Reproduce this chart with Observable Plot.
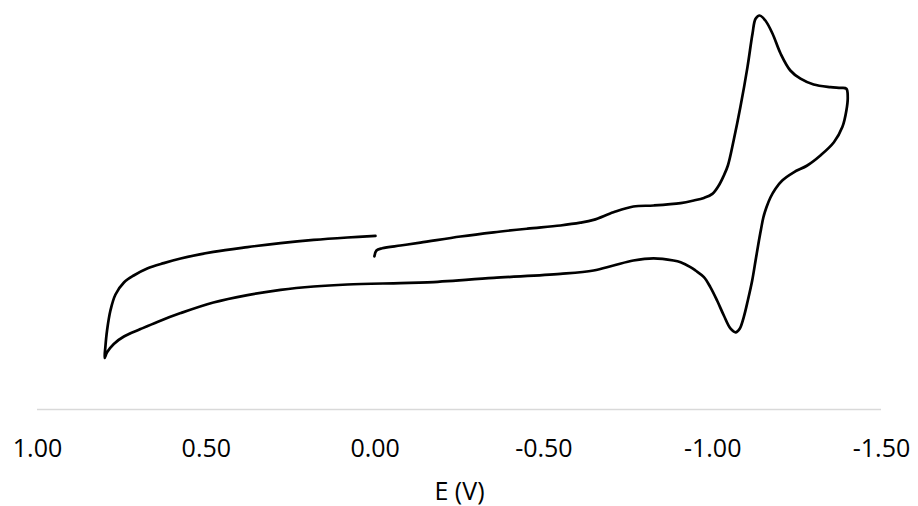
<!DOCTYPE html>
<html>
<head>
<meta charset="utf-8">
<script src="https://cdn.jsdelivr.net/npm/d3@7"></script>
<script src="https://cdn.jsdelivr.net/npm/@observablehq/plot@0.6"></script>
<style>
  html, body { margin: 0; padding: 0; background: #fff; }
</style>
</head>
<body>
<div id="chart"></div>
<script>
// Cyclic voltammogram: scan starts at 0.00 V, runs cathodic to -1.40 V,
// reverses to +0.80 V and returns to 0.00 V. Current in arbitrary units (cathodic up).
const potential = [
  // forward (cathodic) sweep
  0.002, -0.004, -0.021, -0.075, -0.134, -0.253, -0.351, -0.451, -0.549, -0.608,
  -0.647, -0.706, -0.765, -0.825, -0.905, -0.944, -0.974, -0.999, -1.018, -1.033,
  -1.045, -1.062, -1.082, -1.103, -1.118, -1.127, -1.139, -1.156, -1.177, -1.201,
  -1.230, -1.260, -1.299, -1.349, -1.379, -1.396,
  // reverse (anodic) sweep
  -1.400, -1.396, -1.384, -1.359, -1.319, -1.280, -1.240, -1.206, -1.186, -1.171,
  -1.159, -1.150, -1.143, -1.137, -1.127, -1.117, -1.104, -1.092, -1.080, -1.068,
  -1.053, -1.033, -1.013, -0.993, -0.974, -0.949, -0.934, -0.905, -0.884, -0.825,
  -0.765, -0.706, -0.647, -0.549, -0.351, -0.155, -0.075, 0.082, 0.182, 0.280,
  0.378, 0.479, 0.576, 0.645, 0.695, 0.744, 0.774, 0.794, 0.801,
  // return to the starting potential
  0.799, 0.794, 0.784, 0.769, 0.744, 0.715, 0.675, 0.626, 0.576, 0.479,
  0.378, 0.280, 0.182, 0.082, -0.001
];
const current = [
  38.3, 39.75, 40.3, 41.0, 41.7, 43.25, 44.3, 45.2, 46.0, 46.7,
  47.4, 49.3, 50.75, 51.0, 51.6, 52.25, 52.9, 53.9, 56.0, 58.5,
  61.0, 67.25, 75.6, 85.6, 94.0, 97.7, 98.5, 97.25, 94.0, 89.0,
  84.75, 82.7, 81.25, 80.6, 80.4, 80.2,
  78.1, 74.75, 70.6, 66.8, 63.5, 61.0, 59.3, 57.25, 55.2, 53.0,
  50.5, 48.0, 45.0, 42.25, 37.25, 32.25, 27.25, 23.1, 20.2, 19.3,
  20.2, 23.5, 27.25, 30.6, 33.1, 34.75, 35.6, 36.8, 37.25, 37.8,
  37.25, 36.0, 34.75, 33.9, 32.9, 31.8, 31.6, 31.25, 30.75, 29.9,
  28.6, 26.75, 24.1, 21.9, 20.1, 18.25, 16.4, 14.3, 12.9,
  15.6, 19.75, 24.75, 28.75, 31.75, 33.5, 35.25, 36.6, 37.75, 39.4,
  40.6, 41.6, 42.4, 43.0, 43.4
];
const xTicks = [1.0, 0.5, 0.0, -0.5, -1.0, -1.5];
const xLabel = "E (V)";

const scan = potential.map((E, i) => ({E, I: current[i]}));

const chart = Plot.plot({
  width: 918,
  height: 506,
  marginLeft: 37,
  marginRight: 37,
  marginTop: 9,
  marginBottom: 97,
  style: {
    fontFamily: "'Open Sans', sans-serif",
    fontSize: "25px",
    color: "#000",
    background: "#fff"
  },
  x: {domain: [1.0, -1.5]},
  y: {domain: [0, 100], axis: null},
  marks: [
    Plot.ruleY([0], {stroke: "#d9d9d9", strokeWidth: 1.5}),
    Plot.line(scan, {
      x: "E", y: "I",
      stroke: "#000", strokeWidth: 2.7,
      curve: "catmull-rom",
      strokeLinejoin: "round", strokeLinecap: "round"
    }),
    Plot.axisX({
      ticks: xTicks,
      tickSize: 0,
      tickPadding: 30,
      tickFormat: d => d.toFixed(2),
      label: xLabel,
      labelAnchor: "center",
      labelArrow: false,
      labelOffset: 90
    })
  ]
});
document.getElementById("chart").appendChild(chart);
</script>
</body>
</html>
